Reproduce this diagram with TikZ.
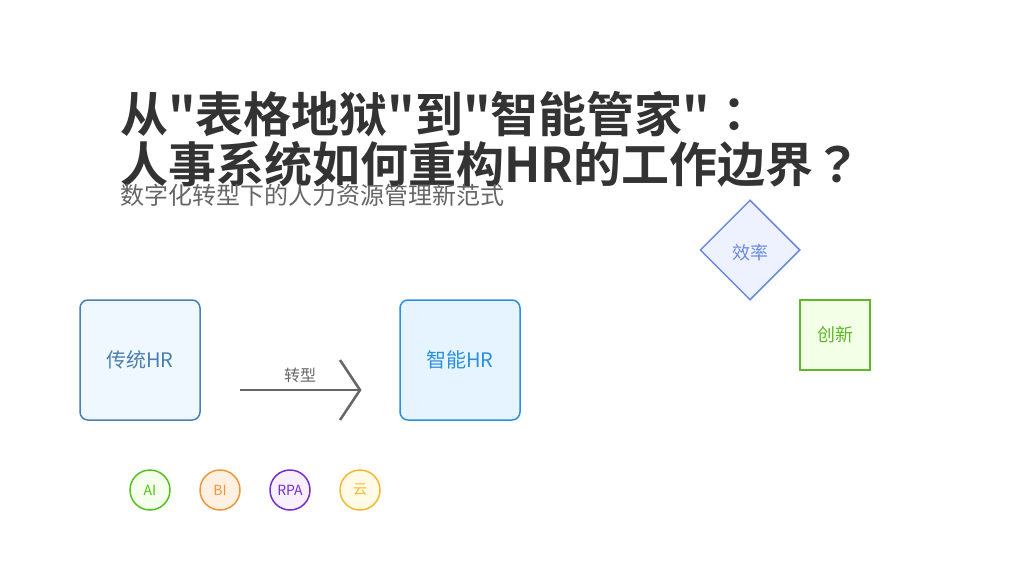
\documentclass[tikz,border=0pt]{standalone}
\usepackage{fontspec}
\setmainfont{Noto Sans CJK SC}[BoldFont={Noto Sans CJK SC Bold},Ligatures=TeXOff]
\newfontfamily\tcfont{Noto Sans CJK TC}[BoldFont={Noto Sans CJK TC Bold},Ligatures=TeXOff]
\usetikzlibrary{shapes.geometric}
\definecolor{titlec}{HTML}{333333}
\definecolor{subc}{HTML}{666666}
\definecolor{tradb}{HTML}{4A7FB0}
\definecolor{tradf}{HTML}{F0F8FF}
\definecolor{smartb}{HTML}{2B8FE0}
\definecolor{smartf}{HTML}{E6F4FF}
\definecolor{effb}{HTML}{6A8AE0}
\definecolor{efff}{HTML}{EEF2FF}
\definecolor{innb}{HTML}{5DB82A}
\definecolor{innf}{HTML}{F4FFE8}
\definecolor{aib}{HTML}{52C41A}
\definecolor{aif}{HTML}{F6FFED}
\definecolor{bib}{HTML}{F0963A}
\definecolor{bif}{HTML}{FFF0E2}
\definecolor{rpab}{HTML}{722ED1}
\definecolor{rpaf}{HTML}{F9F0FF}
\definecolor{yunb}{HTML}{F5B82E}
\definecolor{yunf}{HTML}{FFFBE6}
\definecolor{arrc}{HTML}{666666}
\begin{document}
\begin{tikzpicture}[x=1pt,y=-1pt,
  titletext/.style={anchor=base west,inner sep=0pt,text=titlec,font=\fontsize{48}{48}\selectfont\bfseries},
  subtext/.style={anchor=base west,inner sep=0pt,text=subc,font=\fontsize{24}{24}\selectfont},
  hrbox/.style={rounded corners=8pt,line width=1.5pt,minimum width=120pt,minimum height=120pt,inner sep=0pt,font=\fontsize{20}{20}\selectfont},
  chip/.style={circle,line width=1.5pt,minimum size=40pt,inner sep=0pt,font=\fontsize{14}{14}\selectfont},
  conn/.style={draw=arrc,line width=2.5pt}
]
\useasboundingbox[fill=white] (0,0) rectangle (1024,576);
\node[titletext] (t1) at (120,132) {从"表格地狱"到"智能管家"{\tcfont ：}};
\node[titletext] (t2) at (120,182) {人事系统如何重构HR的工作边界{\tcfont ？}};
\node[subtext] (sub) at (120,204) {数字化转型下的人力资源管理新范式};
\node[hrbox,draw=tradb,fill=tradf,text=tradb] (trad) at (140,360) {\raisebox{-3pt}{传统HR}};
\node[hrbox,draw=smartb,fill=smartf,text=smartb] (smart) at (460,360) {\raisebox{-3pt}{智能HR}};
\coordinate (as) at (240,390);
\coordinate (ae) at (360,390);
\coordinate (au) at (340,360);
\coordinate (ad) at (340,420);
\draw[conn] (as) -- (ae);
\draw[conn,line join=miter] (au) -- (ae) -- (ad);
\node[text=subc,font=\fontsize{16}{16}\selectfont] (lbl) at (300,375) {转型};
\node[diamond,draw=effb,fill=efff,line width=1.5pt,minimum width=100pt,minimum height=100pt,inner sep=0pt,aspect=1] (eff) at (750,250) {};
\node[text=effb,font=\fontsize{18}{18}\selectfont] (efft) at (750,253) {效率};
\node[draw=innb,fill=innf,text=innb,line width=1.5pt,minimum size=70pt,inner sep=0pt,font=\fontsize{18}{18}\selectfont] (inn) at (835,335) {创新};
\node[chip,draw=aib,fill=aif,text=aib] (ai) at (150,490) {AI};
\node[chip,draw=bib,fill=bif,text=bib] (bi) at (220,490) {BI};
\node[chip,draw=rpab,fill=rpaf,text=rpab] (rpa) at (290,490) {RPA};
\node[chip,draw=yunb,fill=yunf,text=yunb] (yun) at (360,490) {云};
\end{tikzpicture}
\end{document}
